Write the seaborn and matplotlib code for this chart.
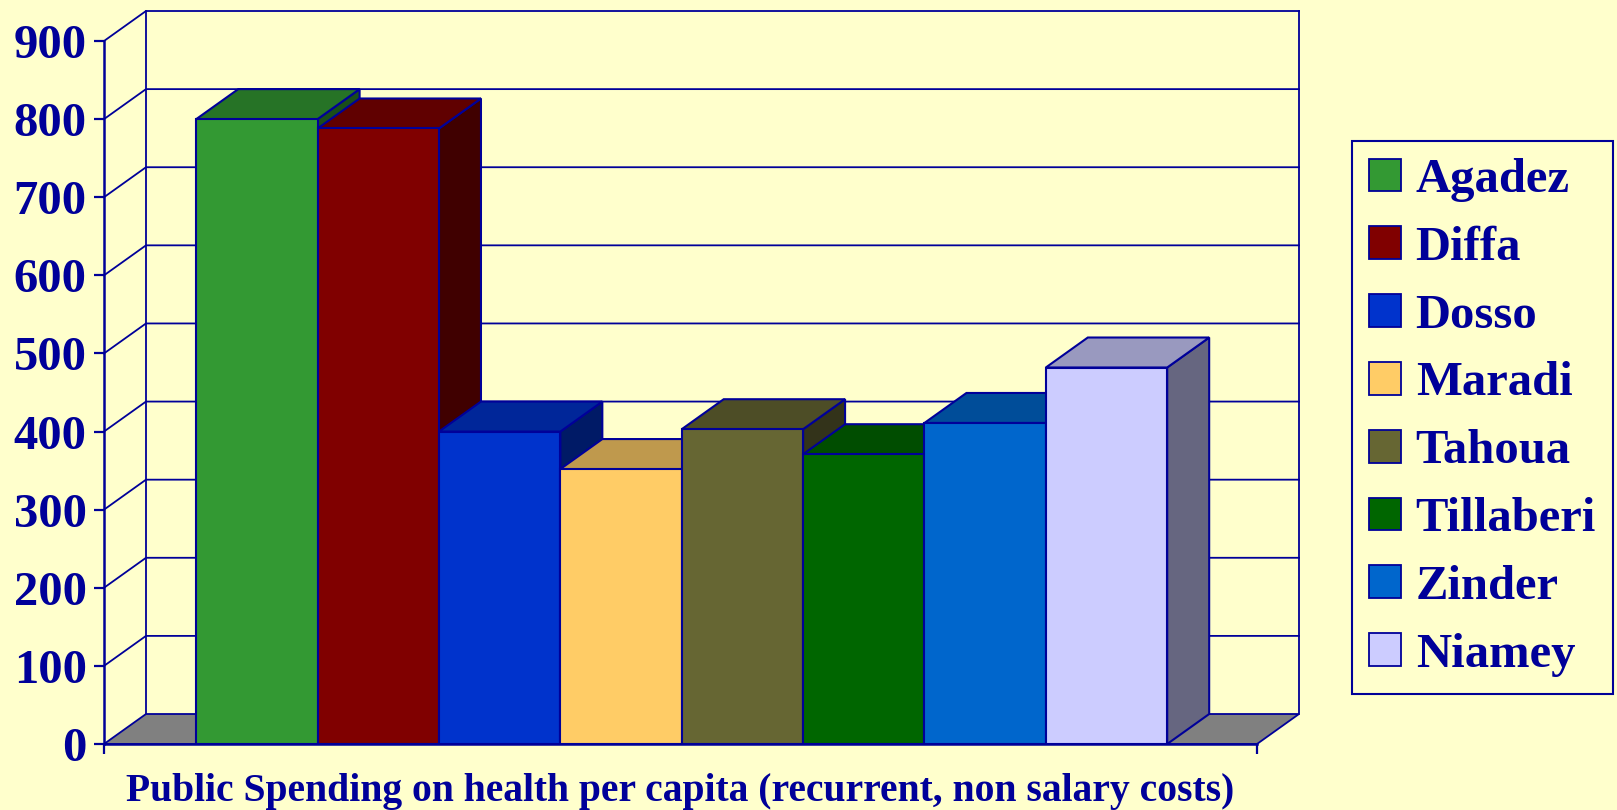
import numpy as np
import seaborn as sns
import matplotlib.pyplot as plt
from matplotlib.patches import Polygon, Patch
from matplotlib.colors import to_rgb

regions = ['Agadez', 'Diffa', 'Dosso', 'Maradi', 'Tahoua', 'Tillaberi', 'Zinder', 'Niamey']
spending = [800, 788, 400, 352, 403, 371, 411, 482]
front_colors = ['#339933', '#800000', '#0033CC', '#FFCC66', '#666633', '#006600', '#0066CC', '#CCCCFF']
y_ticks = [0, 100, 200, 300, 400, 500, 600, 700, 800, 900]
x_title = 'Public Spending on health per capita (recurrent, non salary costs)'

navy = '#000099'
bg = '#FFFFCC'

plt.rcParams['font.family'] = ['Liberation Serif', 'DejaVu Serif']
plt.rcParams['font.weight'] = 'bold'


def shade(color, k):
    r, g, b = to_rgb(color)
    return (r * k, g * k, b * k)


fig = plt.figure(figsize=(16.17, 8.10), dpi=100, facecolor=bg)
ax = fig.add_axes([104 / 1617, 66 / 810, 1153 / 1617, 703 / 810])
ax.set_facecolor(bg)

sns.barplot(x=regions, y=spending, hue=regions, palette=front_colors, width=1.0,
            dodge=False, legend=False, saturation=1, edgecolor=navy, linewidth=1.5, ax=ax)
bars = sorted(ax.patches, key=lambda p: p.get_x())

x0, x1 = -1.26, 8.24
ax.set_xlim(x0, x1)
ax.set_ylim(0, 900)

# depth of the fake 3d box, in data units
dx = 0.346
dy = 38.4

# walls and floor
floor = Polygon([(x0, 0), (x0 + dx, dy), (x1 + dx, dy), (x1, 0)], closed=True,
                facecolor='#808080', edgecolor=navy, linewidth=1.3, clip_on=False, zorder=2)
ax.add_patch(floor)
for t in y_ticks[1:]:
    ax.plot([x0, x0 + dx, x1 + dx], [t, t + dy, t + dy], color=navy, lw=1.3,
            clip_on=False, zorder=1)
ax.plot([x0 + dx, x0 + dx], [dy, 900 + dy], color=navy, lw=1.3, clip_on=False, zorder=1)
ax.plot([x1 + dx, x1 + dx], [dy, 900 + dy], color=navy, lw=1.3, clip_on=False, zorder=1)

# top and side faces for every bar
for i, (p, c) in enumerate(zip(bars, front_colors)):
    xl, w, h = p.get_x(), p.get_width(), p.get_height()
    side = Polygon([(xl + w, 0), (xl + w, h), (xl + w + dx, h + dy), (xl + w + dx, dy)],
                   closed=True, facecolor=shade(c, 0.5), edgecolor=navy, linewidth=1.5,
                   clip_on=False, zorder=10 + 3 * i)
    top = Polygon([(xl, h), (xl + dx, h + dy), (xl + w + dx, h + dy), (xl + w, h)],
                  closed=True, facecolor=shade(c, 0.75), edgecolor=navy, linewidth=1.5,
                  clip_on=False, zorder=11 + 3 * i)
    ax.add_patch(side)
    ax.add_patch(top)
    p.set_zorder(12 + 3 * i)

for s in ['top', 'right']:
    ax.spines[s].set_visible(False)
for s in ['left', 'bottom']:
    ax.spines[s].set_color(navy)
    ax.spines[s].set_linewidth(1.8)
    ax.spines[s].set_zorder(60)

ax.set_yticks(y_ticks)
ax.set_yticklabels([str(t) for t in y_ticks])
ax.set_xticks([x0, x1])
ax.set_xticklabels(['', ''])
ax.tick_params(axis='both', colors=navy, length=7.5, width=1.6, direction='out')
ax.tick_params(axis='y', labelsize=35, pad=5)
for lbl in ax.get_yticklabels():
    lbl.set_fontweight('bold')
    lbl.set_color(navy)

ax.set_xlabel(x_title, fontsize=28.5, fontweight='bold', color=navy, labelpad=10)
ax.set_ylabel('')

handles = [Patch(facecolor=c, edgecolor=navy, linewidth=1.3) for c in front_colors]
leg = fig.legend(handles, regions, loc='upper left', bbox_to_anchor=(1352 / 1617, 669 / 810),
                 fontsize=35, frameon=True, fancybox=False, framealpha=1,
                 handlelength=0.66, handleheight=0.66, handletextpad=0.3,
                 labelspacing=0.49, borderpad=0.35, borderaxespad=0)
leg.get_frame().set_facecolor(bg)
leg.get_frame().set_edgecolor(navy)
leg.get_frame().set_linewidth(1.5)
for t in leg.get_texts():
    t.set_color(navy)
    t.set_fontweight('bold')

fig.savefig('out.png', dpi=100, facecolor=bg)
